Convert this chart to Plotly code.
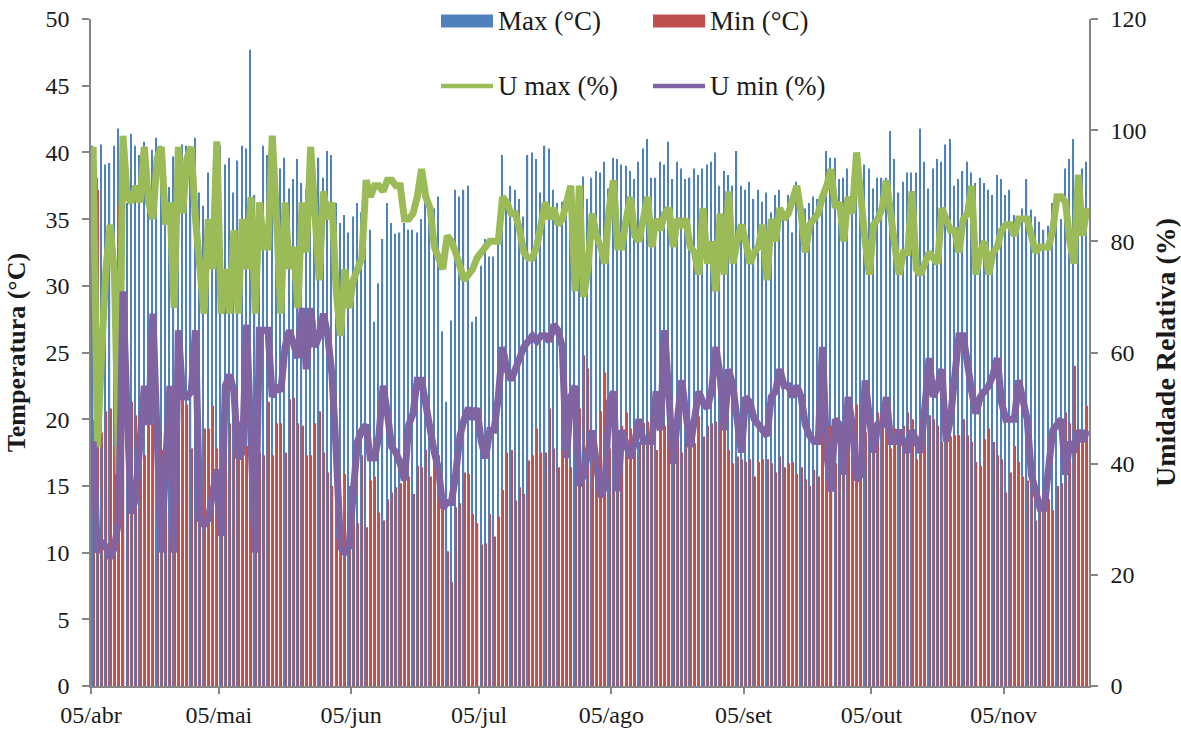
import plotly.graph_objects as go

# Daily series, starting 05/abr (one value per day)
T_MAX = [
    40.5, 38.1, 40.6, 39.1, 39.2, 40.5, 41.8, 40.0, 36.2, 41.4,
    40.5, 39.8, 40.8, 38.0, 40.2, 41.1, 40.5, 37.0, 37.4, 39.7,
    38.0, 40.6, 40.5, 38.7, 41.1, 37.0, 36.0, 38.5, 35.0, 38.0,
    40.5, 39.1, 39.6, 37.0, 39.4, 40.5, 40.3, 47.7, 36.8, 36.2,
    40.5, 39.8, 36.5, 39.5, 38.8, 39.6, 37.3, 38.0, 39.5, 37.7,
    37.2, 37.5, 35.2, 39.6, 38.1, 40.1, 39.8, 36.2, 34.7, 35.3,
    34.0, 35.2, 36.2, 35.5, 36.2, 34.2, 27.3, 30.2, 33.5, 36.2,
    34.7, 33.9, 34.0, 34.7, 34.2, 34.2, 34.0, 35.0, 36.8, 35.0,
    35.8, 36.7, 26.6, 21.3, 27.4, 37.2, 36.7, 37.2, 37.5, 27.3,
    27.7, 31.5, 33.5, 32.2, 32.2, 35.2, 39.8, 36.5, 37.5, 37.2,
    36.5, 35.2, 39.8, 40.0, 39.5, 37.0, 40.5, 40.3, 37.2, 36.2,
    36.3, 36.5, 37.5, 36.2, 37.5, 38.2, 36.5, 38.1, 38.6, 38.5,
    39.3, 37.3, 39.6, 39.5, 39.1, 39.0, 38.6, 38.0, 39.3, 40.3,
    41.0, 38.1, 38.1, 39.3, 39.1, 40.8, 38.0, 39.3, 38.8, 38.0,
    38.1, 38.8, 38.3, 38.8, 39.1, 39.3, 40.0, 37.5, 38.6, 38.3,
    37.5, 40.1, 37.5, 37.2, 37.8, 36.5, 37.2, 36.3, 37.0, 35.5,
    36.8, 37.2, 35.7, 36.8, 34.0, 37.8, 36.5, 35.8, 36.2, 36.7,
    36.5, 35.7, 40.1, 39.6, 39.6, 38.0, 38.1, 38.8, 38.0, 38.8,
    39.5, 39.1, 38.8, 37.3, 38.1, 38.1, 38.1, 41.6, 39.5, 37.0,
    37.8, 38.5, 38.5, 38.5, 41.8, 39.3, 37.3, 38.8, 39.5, 39.3,
    40.6, 41.0, 37.5, 38.0, 38.6, 39.3, 38.5, 37.7, 38.1, 37.7,
    37.2, 36.8, 38.3, 38.0, 36.8, 37.2, 35.3, 35.2, 35.8, 38.0,
    35.7, 35.2, 34.8, 34.2, 34.5, 36.2, 36.8, 35.0, 38.8, 39.5,
    41.0, 38.3, 38.8, 39.3,
]

T_MIN = [
    20.0, 37.2, 19.0, 20.6, 20.8, 18.0, 36.0, 20.5, 21.6, 21.3,
    20.3, 19.0, 17.3, 21.5, 19.7, 21.5, 17.7, 19.3, 18.0, 17.3,
    21.6, 21.6, 21.1, 17.8, 20.2, 17.8, 19.3, 19.3, 21.0, 17.8,
    17.0, 20.3, 19.7, 19.0, 19.8, 20.3, 18.0, 20.0, 18.5, 17.5,
    17.3, 21.3, 17.3, 19.7, 19.7, 17.5, 21.5, 21.6, 19.7, 19.5,
    17.3, 17.3, 19.7, 20.6, 17.5, 16.0, 15.0, 11.1, 14.0, 15.9,
    15.0, 17.5, 12.2, 17.3, 11.9, 15.4, 15.7, 13.0, 12.4, 14.0,
    14.5, 14.9, 15.2, 15.9, 15.7, 14.4, 16.5, 16.4, 17.7, 15.7,
    17.7, 17.3, 14.7, 10.1, 7.8, 13.4, 13.7, 16.0, 15.9, 12.9,
    12.2, 10.6, 10.7, 12.9, 11.2, 12.7, 14.7, 17.5, 17.7, 13.9,
    14.9, 14.4, 16.9, 17.3, 19.3, 17.5, 17.5, 20.8, 17.8, 16.4,
    17.7, 17.3, 16.4, 17.0, 20.8, 24.8, 23.8, 17.7, 16.2, 20.6,
    23.5, 17.8, 17.5, 19.0, 19.5, 20.5, 19.3, 19.5, 18.3, 19.7,
    19.8, 19.2, 17.7, 19.7, 19.5, 18.7, 17.7, 19.3, 17.5, 18.8,
    19.0, 18.2, 20.2, 18.7, 19.5, 19.7, 19.8, 20.5, 19.2, 17.7,
    16.7, 17.2, 17.0, 16.8, 17.0, 15.7, 16.8, 17.0, 17.0, 16.7,
    16.0, 17.2, 16.4, 16.7, 16.8, 15.9, 16.4, 15.5, 15.0, 16.2,
    15.7, 19.0, 18.5, 19.5, 16.7, 19.7, 18.5, 19.0, 19.5, 21.1,
    19.7, 19.0, 19.0, 19.7, 20.5, 19.5, 19.0, 17.8, 19.3, 19.0,
    19.5, 20.5, 20.0, 17.0, 19.8, 20.0, 20.3, 20.0, 19.5, 18.3,
    19.0, 18.7, 18.8, 18.8, 20.0, 18.8, 18.3, 16.8, 16.5, 18.5,
    19.3, 18.3, 17.3, 17.0, 14.5, 16.0, 18.0, 16.8, 15.7, 15.4,
    15.0, 12.4, 13.4, 14.0, 14.0, 13.2, 15.0, 15.2, 20.5, 19.7,
    24.0, 19.2, 19.0, 21.0,
]

U_MAX = [
    97, 43, 60, 75, 83, 74, 38, 99, 88, 87,
    90, 87, 97, 87, 84, 95, 97, 83, 87, 68,
    97, 85, 95, 97, 84, 74, 67, 84, 75, 98,
    67, 75, 67, 82, 67, 84, 75, 88, 67, 87,
    79, 79, 99, 84, 67, 87, 75, 79, 68, 87,
    78, 97, 86, 73, 89, 84, 87, 71, 63, 75,
    68, 73, 75, 77, 91, 88, 90, 90, 89, 91,
    91, 90, 90, 84, 84, 85, 88, 93, 88, 86,
    79, 77, 75, 81, 80, 78, 75, 73, 74, 75,
    77, 78, 79, 80, 80, 80, 88, 87, 85, 85,
    82, 78, 77, 77, 79, 83, 87, 84, 86, 83,
    84, 87, 90, 71, 90, 70, 75, 85, 81, 79,
    76, 86, 91, 79, 79, 84, 88, 81, 80, 84,
    88, 79, 84, 82, 85, 86, 79, 84, 83, 84,
    79, 78, 74, 86, 76, 80, 71, 85, 74, 89,
    76, 80, 83, 80, 76, 78, 79, 83, 73, 84,
    80, 86, 84, 85, 88, 90, 85, 78, 83, 84,
    85, 88, 90, 93, 86, 87, 80, 88, 85, 96,
    87, 80, 74, 83, 84, 86, 91, 84, 79, 74,
    78, 78, 89, 75, 74, 76, 78, 77, 76, 86,
    84, 82, 82, 78, 84, 85, 90, 74, 78, 80,
    74, 78, 79, 82, 83, 83, 81, 84, 84, 84,
    81, 78, 79, 79, 79, 82, 88, 88, 87, 80,
    76, 92, 81, 86,
]

U_MIN = [
    44, 24, 26, 25, 23, 25, 30, 71, 48, 31,
    34, 45, 54, 47, 67, 45, 24, 40, 54, 24,
    64, 52, 52, 53, 64, 30, 29, 30, 35, 39,
    27, 54, 56, 53, 41, 42, 65, 40, 24, 64,
    64, 64, 52, 54, 53, 61, 64, 61, 59, 68,
    57, 68, 61, 63, 67, 63, 56, 42, 25, 24,
    25, 35, 44, 46, 47, 41, 41, 45, 54, 49,
    43, 42, 40, 37, 47, 49, 55, 55, 50, 47,
    42, 39, 32, 33, 33, 38, 45, 48, 50, 48,
    50, 44, 41, 46, 46, 52, 61, 57, 55, 57,
    59, 61, 62, 63, 62, 63, 63, 62, 65, 64,
    61, 41, 52, 54, 36, 38, 42, 46, 40, 34,
    36, 51, 53, 35, 46, 43, 41, 44, 48, 44,
    44, 44, 53, 46, 64, 49, 40, 48, 55, 49,
    43, 48, 53, 51, 50, 53, 61, 56, 46, 57,
    54, 48, 42, 52, 51, 48, 47, 46, 45, 52,
    53, 57, 54, 54, 52, 54, 52, 47, 45, 44,
    44, 61, 42, 35, 48, 47, 38, 52, 47, 37,
    38, 55, 48, 42, 47, 47, 52, 44, 44, 46,
    44, 42, 46, 44, 42, 50, 59, 52, 54, 57,
    44, 48, 55, 63, 63, 57, 53, 49, 52, 53,
    54, 56, 59, 51, 48, 48, 48, 55, 52, 48,
    38, 35, 32, 32, 40, 46, 47, 48, 38, 44,
    42, 46, 44, 46,
]

# Month ticks: label and day offset from 05/abr
MONTH_LABELS = ["05/abr", "05/mai", "05/jun", "05/jul", "05/ago", "05/set", "05/out", "05/nov"]
MONTH_DAY = [0, 30, 61, 91, 122, 153, 183, 214]

N_DAYS = len(T_MAX)
days = list(range(N_DAYS))

BLUE = "#4F81BD"
RED = "#C0504D"
GREEN = "#9BBB59"
PURPLE = "#8064A2"
AXIS = "#868686"
FONT = "Times New Roman, Liberation Serif, DejaVu Serif, serif"
TXT = "#1a1a1a"
LINE_W = 7

fig = go.Figure()
fig.add_trace(go.Bar(x=days, y=T_MAX, name="Max (°C)", marker=dict(color=BLUE, line_width=0)))
fig.add_trace(go.Bar(x=days, y=T_MIN, name="Min (°C)", marker=dict(color=RED, line_width=0)))
fig.add_trace(go.Scatter(x=days, y=U_MAX, name="U max (%)", yaxis="y2", mode="lines",
                         line=dict(color=GREEN, width=LINE_W)))
fig.add_trace(go.Scatter(x=days, y=U_MIN, name="U min (%)", yaxis="y2", mode="lines",
                         line=dict(color=PURPLE, width=LINE_W)))

W, H = 1181, 732
L, R, T, B = 91, 92, 19, 46
pw, ph = W - L - R, H - T - B


def px(x):
    return (x - L) / pw


def py(y):
    return (H - B - y) / ph


# Legend drawn as two rows: bars on top, humidity lines below
shapes = []
annotations = []
legend_items = [
    ("Max (°C)", BLUE, "rect", 441, 21),
    ("Min (°C)", RED, "rect", 653, 21),
    ("U max (%)", GREEN, "line", 441, 86),
    ("U min (%)", PURPLE, "line", 653, 86),
]
for label, color, kind, x0, yc in legend_items:
    if kind == "rect":
        shapes.append(dict(type="rect", xref="paper", yref="paper",
                           x0=px(x0), x1=px(x0 + 52), y0=py(yc + 6.5), y1=py(yc - 6.5),
                           fillcolor=color, line_width=0, layer="above"))
    else:
        shapes.append(dict(type="line", xref="paper", yref="paper",
                           x0=px(x0), x1=px(x0 + 52), y0=py(yc), y1=py(yc),
                           line=dict(color=color, width=4.5), layer="above"))
    annotations.append(dict(text=label, xref="paper", yref="paper", x=px(x0 + 55), y=py(yc),
                            xanchor="left", yanchor="middle", showarrow=False,
                            font=dict(family=FONT, size=27, color=TXT)))

fig.update_layout(
    width=W, height=H,
    margin=dict(l=L, r=R, t=T, b=B, autoexpand=False),
    paper_bgcolor="white", plot_bgcolor="white",
    barmode="group", bargap=0.42, bargroupgap=0.0,
    showlegend=False,
    font=dict(family=FONT, size=24, color=TXT),
    shapes=shapes, annotations=annotations,
    xaxis=dict(
        range=[-0.5, N_DAYS - 0.5],
        tickmode="array",
        tickvals=[d - 0.5 for d in MONTH_DAY],
        ticktext=MONTH_LABELS,
        ticks="outside", ticklen=6, tickwidth=1.5, tickcolor=AXIS,
        showline=True, linecolor=AXIS, linewidth=1.5,
        showgrid=False, zeroline=False,
        tickfont=dict(family=FONT, size=24, color=TXT),
    ),
    yaxis=dict(
        range=[0, 50], dtick=5,
        ticks="outside", ticklen=7, tickwidth=1.5, tickcolor=AXIS,
        showline=True, linecolor=AXIS, linewidth=1.5,
        showgrid=False, zeroline=False,
        ticklabelstandoff=8,
        tickfont=dict(family=FONT, size=24, color=TXT),
        title=dict(text="<b>Temperatura (°C)</b>", standoff=12,
                   font=dict(family=FONT, size=26, color=TXT)),
    ),
    yaxis2=dict(
        range=[0, 120], dtick=20, overlaying="y", side="right",
        ticks="outside", ticklen=7, tickwidth=1.5, tickcolor=AXIS,
        showline=True, linecolor=AXIS, linewidth=1.5,
        showgrid=False, zeroline=False,
        ticklabelstandoff=8,
        tickfont=dict(family=FONT, size=24, color=TXT),
        title=dict(text="<b>Umidade Relativa (%)</b>", standoff=10,
                   font=dict(family=FONT, size=28, color=TXT)),
    ),
)

fig.write_html("out.html")
